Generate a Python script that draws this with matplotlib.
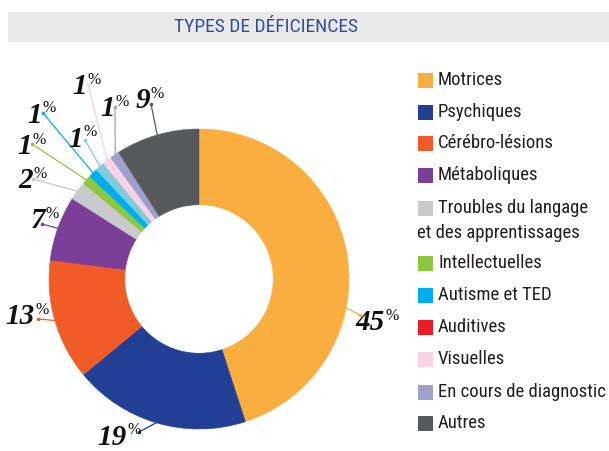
import numpy as np
import matplotlib
matplotlib.use("Agg")
import matplotlib.pyplot as plt
from matplotlib.patches import Rectangle

# ---- data ----
title = "TYPES DE DÉFICIENCES"
categories = ["Motrices", "Psychiques", "Cérébro-lésions", "Métaboliques",
              "Troubles du langage\net des apprentissages", "Intellectuelles",
              "Autisme et TED", "Auditives", "Visuelles",
              "En cours de diagnostic", "Autres"]
values = [45, 19, 13, 7, 2, 1, 1, 1, 1, 1, 9]
pie_colors = ["#FBAE40", "#213F95", "#F15B27", "#7C3F98", "#C8C9CB", "#8DC63F",
              "#00AEEF", "#7DCBDB", "#F9D2E3", "#9FA0CF", "#58595B"]
legend_colors = ["#FBAE40", "#213F95", "#F15B27", "#7C3F98", "#C8C9CB", "#8DC63F",
                 "#00AEEF", "#ED1C24", "#F9D2E3", "#9FA0CF", "#58595B"]

# ---- layout (pixel coordinates, y from top) ----
W, H = 609, 451
cx, cy, R = 199, 279, 150
label_anchor = [(385, 330), (127, 445), (35, 324), (45, 228), (33, 188), (32, 154),
                (42, 123), (83, 147), (87, 94), (115, 116), (150, 108)]
line_end = [(360, 315), (139, 432), (38, 319), (42, 224), (33, 179), (32, 144),
            (43, 113), (85, 140), (88, 85), (115, 107), (151, 104)]
start_angle_override = {0: -11.0}
legend_rows = [80, 112, 143, 175, 208, 263, 295, 327, 359, 392, 423]

fig = plt.figure(figsize=(W / 100, H / 100), dpi=100)
ax = fig.add_axes([0, 0, 1, 1])
ax.set_xlim(0, W)
ax.set_ylim(0, H)
ax.axis("off")

def Y(py):
    return H - py

narrow = ["Roboto Condensed", "Archivo Narrow", "Asap Condensed", "DejaVu Sans"]
serif = ["Liberation Serif", "DejaVu Serif"]

# title band
ax.add_patch(Rectangle((8, Y(42)), W - 8, 30, facecolor="#E9E9EA", edgecolor="none"))
ax.text(266, Y(27), title, ha="center", va="center", fontsize=14,
        color="#2E4E9C", family=narrow)

# donut
wedges, _ = ax.pie(values, colors=pie_colors, startangle=90, counterclock=False,
                   center=(cx, Y(cy)), radius=R, frame=True,
                   wedgeprops=dict(width=R * 0.505, linewidth=0))
for w_, c in zip(wedges, pie_colors):
    w_.set_edgecolor(c)
    w_.set_linewidth(0.4)
ax.set_xlim(0, W)
ax.set_ylim(0, H)
ax.set_aspect("equal")
ax.axis("off")

# labels with leader lines
total = sum(values)
cum = 0
for i, v in enumerate(values):
    mid = cum + v / 2
    cum += v
    ang = 90 - 360 * mid / total
    ang = start_angle_override.get(i, ang)
    sx = cx + (R - 1) * np.cos(np.radians(ang))
    sy = Y(cy) + (R - 1) * np.sin(np.radians(ang))
    ex, ey = line_end[i]
    ax.plot([sx, ex], [sy, Y(ey)], color=pie_colors[i], lw=0.9,
            solid_capstyle="butt")
    ax.plot([ex], [Y(ey)], marker="o", ms=2.6, color=pie_colors[i], mew=0)
    lx, ly = label_anchor[i]
    ax.text(lx, Y(ly), f"{v}", ha="right", va="baseline", fontsize=21,
            fontweight="bold", fontstyle="italic", family=serif, color="#111111")
    ax.text(lx + 0.5, Y(ly) + 10.5, "%", ha="left", va="baseline", fontsize=11.5,
            family=serif, color="#111111")

# legend
for i, (lab, col) in enumerate(zip(categories, legend_colors)):
    ry = legend_rows[i]
    ax.add_patch(Rectangle((418, Y(ry) - 7.5), 15, 15, facecolor=col, edgecolor="none"))
    lines = lab.split("\n")
    ax.text(438, Y(ry), lines[0], ha="left", va="center", fontsize=13.5,
            family=narrow, color="#231F20")
    for k, extra in enumerate(lines[1:]):
        ax.text(417, Y(ry + 25 * (k + 1)), extra, ha="left", va="center",
                fontsize=13.5, family=narrow, color="#231F20")

fig.savefig("out.png", dpi=100)
